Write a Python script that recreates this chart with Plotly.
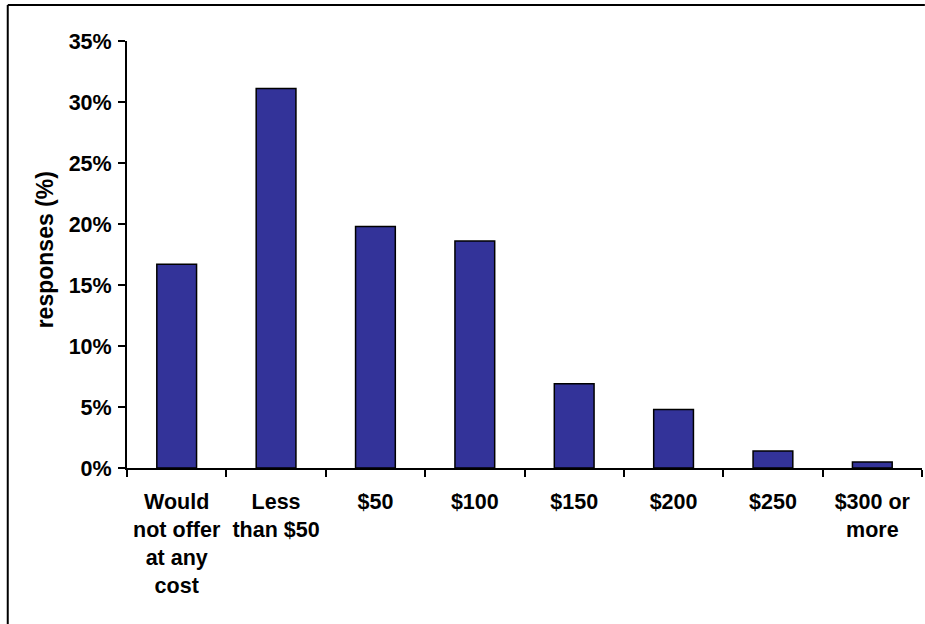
import plotly.graph_objects as go

categories = ["Would<br>not offer<br>at any<br>cost", "Less<br>than $50", "$50", "$100",
              "$150", "$200", "$250", "$300 or<br>more"]
values = [0.167, 0.311, 0.198, 0.186, 0.069, 0.048, 0.014, 0.005]

y_tick_vals = [0, 0.05, 0.10, 0.15, 0.20, 0.25, 0.30, 0.35]

FONT = "Liberation Sans, Arial, sans-serif"

fig = go.Figure(go.Bar(
    x=categories, y=values,
    marker=dict(color="#333399", line=dict(color="black", width=1.5)),
))

frame = dict(color="black", width=2)

fig.update_layout(
    width=925, height=624,
    margin=dict(l=127, r=3, t=41, b=156),
    paper_bgcolor="white", plot_bgcolor="white",
    bargap=0.6,
    showlegend=False,
    font=dict(family=FONT, size=21.5, color="black"),
    xaxis=dict(
        showline=True, linecolor="black", linewidth=2,
        ticks="outside", ticklen=7, tickwidth=2, tickcolor="black",
        tickson="boundaries",
        tickfont=dict(family=FONT, size=21.5, color="black", weight="bold"),
        ticklabelstandoff=13,
        showgrid=False, zeroline=False,
    ),
    yaxis=dict(
        range=[0, 0.35],
        tickvals=y_tick_vals, tickformat=".0%",
        showline=True, linecolor="black", linewidth=2,
        ticks="outside", ticklen=7, tickwidth=2, tickcolor="black",
        tickfont=dict(family=FONT, size=21.5, color="black", weight="bold"),
        ticklabelstandoff=2,
        showgrid=False, zeroline=False,
    ),
    annotations=[dict(
        text="responses (%)", textangle=-90,
        xref="paper", yref="paper", x=-0.103, y=0.51,
        showarrow=False, xanchor="center", yanchor="middle",
        font=dict(family=FONT, size=23, color="black", weight="bold"),
    )],
    shapes=[
        dict(type="line", xref="paper", yref="paper",
             x0=-0.150, y0=1.0843, x1=1.0036, y1=1.0843, line=frame, layer="below"),
        dict(type="line", xref="paper", yref="paper",
             x0=-0.150, y0=-0.37, x1=-0.150, y1=1.0843, line=frame, layer="below"),
    ],
)

fig.write_html("out.html", config={"displayModeBar": False})
